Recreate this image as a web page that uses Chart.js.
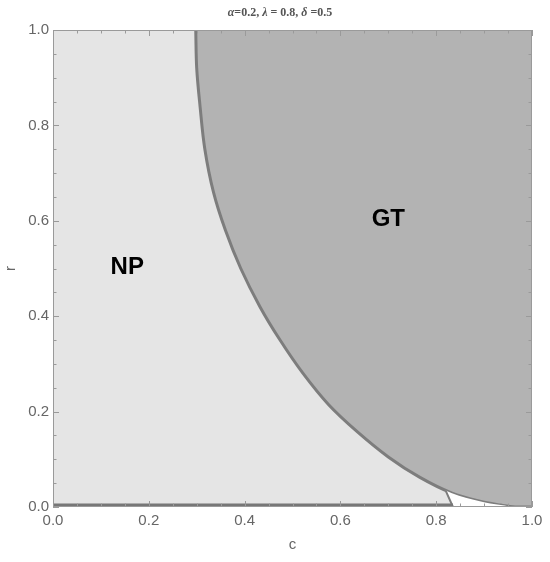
<!DOCTYPE html>
<html>
<head>
<meta charset="utf-8">
<script src="https://cdn.jsdelivr.net/npm/chart.js@4.4.1/dist/chart.umd.min.js"></script>
<style>
  body { margin: 0; background: #fff; }
  #wrap { width: 550px; height: 562px; }
</style>
</head>
<body>
<div id="wrap"><canvas id="mycanvas"></canvas></div>
<script>
// boundary between NP and GT (c, r)
var cBoundary = [0.298, 0.300, 0.307, 0.317, 0.335, 0.360, 0.392, 0.432, 0.474, 0.522, 0.575, 0.635, 0.700, 0.766, 0.833, 0.891, 0.935, 0.965, 1.0];
var rBoundary = [1.000, 0.920, 0.840, 0.750, 0.660, 0.580, 0.500, 0.420, 0.350, 0.280, 0.215, 0.158, 0.105, 0.062, 0.029, 0.012, 0.004, 0.000, 0.0];

// small white wedge at the bottom right
var cWedge = [0.820, 0.835, 0.965];
var rWedge = [0.034, 0.000, 0.000];

// dark line along r = 0
var cBase = [0.0, 0.835];
var rBase = [0.0, 0.0];

var tickValues = [0, 0.2, 0.4, 0.6, 0.8, 1.0];
var regionNames = ['NP', 'GT'];
var regionC = [0.155, 0.70];
var regionR = [0.502, 0.602];

// title pieces: [text, italic]
var titleParts = [['α', true], ['=0.2, ', false], ['λ', true], [' = 0.8, ', false], ['δ', true], [' =0.5', false]];

function pts(xs, ys) {
    var out = [];
    for (var i = 0; i < xs.length; i++) {
        out.push({x: xs[i], y: ys[i]});
    }
    return out;
}

var frameColor = '#9a9a9a';

var framePlugin = {
    id: 'frame',
    afterDatasetsDraw: function (chart) {
        var ctx = chart.ctx;
        var a = chart.chartArea;
        var xs = chart.scales.x, ys = chart.scales.y;
        ctx.save();
        ctx.strokeStyle = frameColor;
        ctx.lineWidth = 1;
        ctx.strokeRect(a.left + 0.5, a.top + 0.5, a.right - a.left - 1, a.bottom - a.top - 1);
        ctx.beginPath();
        for (var k = 0; k <= 20; k++) {
            var v = k / 20;
            var len = (k % 4 === 0) ? 6 : 3.5;
            var px = Math.round(xs.getPixelForValue(v)) + 0.5;
            var py = Math.round(ys.getPixelForValue(v)) + 0.5;
            ctx.moveTo(px, a.bottom); ctx.lineTo(px, a.bottom - len);
            ctx.moveTo(px, a.top); ctx.lineTo(px, a.top + len);
            ctx.moveTo(a.left, py); ctx.lineTo(a.left + len, py);
            ctx.moveTo(a.right, py); ctx.lineTo(a.right - len, py);
        }
        ctx.stroke();

        // region names
        ctx.fillStyle = '#000';
        ctx.font = 'bold 24px "Liberation Sans", Arial, sans-serif';
        ctx.textAlign = 'center';
        ctx.textBaseline = 'middle';
        for (var i = 0; i < regionNames.length; i++) {
            ctx.fillText(regionNames[i], xs.getPixelForValue(regionC[i]), ys.getPixelForValue(regionR[i]));
        }

        // title with italic greek letters
        var fam = '"Liberation Serif", "Times New Roman", serif';
        var total = 0, j;
        for (j = 0; j < titleParts.length; j++) {
            ctx.font = (titleParts[j][1] ? 'italic ' : '') + 'bold 12px ' + fam;
            total += ctx.measureText(titleParts[j][0]).width;
        }
        var x = 280 - total / 2;
        ctx.fillStyle = '#555';
        ctx.textAlign = 'left';
        for (j = 0; j < titleParts.length; j++) {
            ctx.font = (titleParts[j][1] ? 'italic ' : '') + 'bold 12px ' + fam;
            ctx.fillText(titleParts[j][0], x, 13);
            x += ctx.measureText(titleParts[j][0]).width;
        }
        ctx.restore();
    }
};

var lineGrey = '#7d7d7d';

var chartdata = {
    datasets: [{
        label: 'NP',
        data: pts([0, 1], [0, 0]),
        fill: 'end',
        backgroundColor: '#e5e5e5',
        borderWidth: 0,
        pointRadius: 0,
        order: 4
    }, {
        label: 'GT',
        data: pts(cBoundary, rBoundary),
        fill: 'end',
        backgroundColor: '#b3b3b3',
        borderColor: lineGrey,
        borderWidth: 3,
        pointRadius: 0,
        tension: 0.35,
        order: 3
    }, {
        label: 'wedge',
        data: pts(cWedge, rWedge),
        fill: 1,
        backgroundColor: '#ffffff',
        borderColor: lineGrey,
        borderWidth: 2,
        pointRadius: 0,
        order: 2
    }, {
        label: 'base',
        data: pts(cBase, rBase),
        fill: false,
        borderColor: '#777777',
        borderWidth: 7,
        pointRadius: 0,
        clip: 0,
        order: 1
    }]
};

var tickFont = {family: '"Liberation Sans", Arial, sans-serif', size: 15};

var ctx = document.getElementById('mycanvas');
var graph = new Chart(ctx, {
    type: 'scatter',
    data: chartdata,
    plugins: [framePlugin],
    options: {
        animation: false,
        responsive: true,
        maintainAspectRatio: false,
        showLine: true,
        layout: { padding: {left: 0, right: 18, top: 30, bottom: 0} },
        plugins: {
            legend: { display: false },
            tooltip: { enabled: false },
            title: { display: false }
        },
        scales: {
            x: {
                type: 'linear',
                min: 0, max: 1,
                afterFit: function (s) { s.height = 55; },
                afterBuildTicks: function (s) { s.ticks = tickValues.map(function (v) { return {value: v}; }); },
                ticks: {
                    color: '#666',
                    font: tickFont,
                    padding: 5,
                    maxRotation: 0,
                    callback: function (v) { return v.toFixed(1); }
                },
                grid: { display: false, drawTicks: false },
                border: { display: false },
                title: { display: true, text: 'c', color: '#666', font: tickFont, padding: {top: 4, bottom: 8} }
            },
            y: {
                type: 'linear',
                min: 0, max: 1,
                afterFit: function (s) { s.width = 53; },
                afterBuildTicks: function (s) { s.ticks = tickValues.map(function (v) { return {value: v}; }); },
                ticks: {
                    color: '#666',
                    font: tickFont,
                    padding: 4,
                    callback: function (v) { return v.toFixed(1); }
                },
                grid: { display: false, drawTicks: false },
                border: { display: false },
                title: { display: true, text: 'r', color: '#666', font: tickFont, padding: 2 }
            }
        }
    }
});
</script>
</body>
</html>
